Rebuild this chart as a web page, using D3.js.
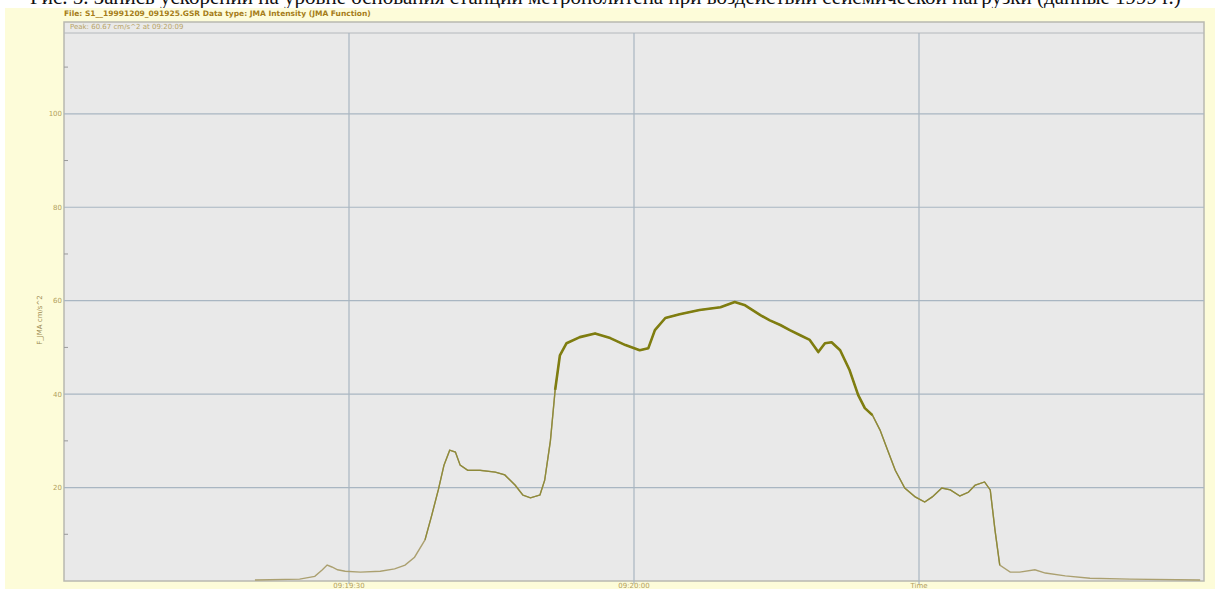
<!DOCTYPE html>
<html>
<head>
<meta charset="utf-8">
<script src="https://cdn.jsdelivr.net/npm/d3@7"></script>
<style>
  body { margin: 0; background: #fff; }
  svg { display: block; }
</style>
</head>
<body>
<div id="chart"></div>
<script>
// seconds after 09:19:00
var times = [20.1, 24.8, 26.4, 27.2, 27.7, 28.2, 28.8, 29.6, 31.2, 33.3, 34.8, 35.9, 36.9, 38.0, 38.7, 39.4, 40.0, 40.6, 41.2, 41.7,
  42.5, 43.8, 45.4, 46.4, 47.5, 48.3, 49.1, 50.1, 50.6, 51.2, 51.7, 52.2, 52.9, 54.3, 55.9, 57.5, 59.1, 60.6, 61.5, 62.2,
  63.3, 64.8, 66.9, 69.1, 70.6, 71.7, 73.3, 74.3, 75.4, 76.4, 77.5, 78.5, 79.4, 80.1, 80.8, 81.7, 82.7, 83.6, 84.3, 85.1,
  85.9, 86.7, 87.5, 88.5, 89.6, 90.6, 91.4, 92.4, 93.3, 94.3, 95.2, 95.9, 96.9, 97.5, 98.0, 98.5, 99.6, 100.6, 102.2, 103.3,
  105.4, 108.0, 112.2, 119.6];
var intensity = [0.2, 0.4, 1.0, 2.4, 3.4, 3.0, 2.4, 2.1, 1.9, 2.1, 2.6, 3.4, 5.1, 8.8, 14.0, 19.5, 24.8, 28.0, 27.6, 24.8,
  23.7, 23.7, 23.3, 22.7, 20.5, 18.4, 17.8, 18.4, 21.6, 30.0, 40.9, 48.3, 50.9, 52.2, 53.0, 52.0, 50.5, 49.4, 49.8, 53.7,
  56.3, 57.1, 58.0, 58.6, 59.7, 59.0, 56.9, 55.8, 54.8, 53.7, 52.6, 51.6, 49.0, 50.9, 51.1, 49.4, 45.1, 39.8, 37.0, 35.5,
  32.3, 28.0, 23.7, 19.9, 18.0, 16.9, 18.0, 19.9, 19.5, 18.2, 19.0, 20.5, 21.2, 19.5, 10.9, 3.4, 1.9, 1.9, 2.4, 1.7,
  1.1, 0.6, 0.4, 0.2];
var yTicks = [20, 40, 60, 80, 100];
var yMinor = [10, 30, 50, 70, 90, 110];
var xTicks = [30, 60, 90];
var xTickLabels = ["09:19:30", "09:20:00", "Time"];

var headerText = "File: S1__19991209_091925.GSR  Data type: JMA Intensity (JMA Function)";
var peakText = "Peak: 60.67 cm/s^2 at 09:20:09";
var yTitle = "F_JMA cm/s^2";
var captionText = "Рис. 5. Запись ускорений на уровне основания станции метрополитена при воздействии сейсмической нагрузки (данные 1999 г.)";

var W = 1219, H = 589;
var plot = {left: 64, right: 1204, top: 22, gridTop: 33, bottom: 581};

var svg = d3.select("#chart").append("svg")
  .attr("width", W)
  .attr("height", H);

// caption line, cut off by the panel below it
svg.append("text")
  .attr("x", 30).attr("y", 4)
  .attr("font-family", "Liberation Serif, serif")
  .attr("font-size", 21)
  .attr("fill", "#111")
  .text(captionText);

// yellow panel
svg.append("rect")
  .attr("x", 5).attr("y", 8)
  .attr("width", W - 9).attr("height", H - 8)
  .attr("fill", "#fdfcd9");

// plot area
svg.append("rect")
  .attr("x", plot.left).attr("y", plot.top)
  .attr("width", plot.right - plot.left).attr("height", plot.bottom - plot.top)
  .attr("fill", "#e9e9e9")
  .attr("stroke", "#b8b8b0")
  .attr("stroke-width", 1.5);

svg.append("line")
  .attr("x1", plot.left).attr("x2", plot.right)
  .attr("y1", plot.gridTop).attr("y2", plot.gridTop)
  .attr("stroke", "#b4b8bc");

var x = d3.scaleLinear().domain([0, 120]).range([plot.left, plot.right]);
var y = d3.scaleLinear().domain([0, 117.3]).range([plot.bottom, plot.gridTop]);

// grid
svg.append("g").selectAll("line")
  .data(yTicks).enter().append("line")
  .attr("x1", plot.left).attr("x2", plot.right)
  .attr("y1", d => y(d)).attr("y2", d => y(d))
  .attr("stroke", "#a9b6c2").attr("stroke-width", 1.2);

svg.append("g").selectAll("line")
  .data(xTicks).enter().append("line")
  .attr("x1", d => x(d)).attr("x2", d => x(d))
  .attr("y1", plot.gridTop).attr("y2", plot.bottom + 3)
  .attr("stroke", "#a9b6c2").attr("stroke-width", 1.2);

svg.append("g").selectAll("line")
  .data(yMinor).enter().append("line")
  .attr("x1", plot.left).attr("x2", plot.left + 4)
  .attr("y1", d => y(d)).attr("y2", d => y(d))
  .attr("stroke", "#9a9a9a");

// axis labels
svg.append("g").selectAll("text")
  .data(yTicks).enter().append("text")
  .attr("x", plot.left - 2).attr("y", d => y(d) + 2.5)
  .attr("text-anchor", "end")
  .attr("font-family", "DejaVu Sans, sans-serif")
  .attr("font-size", 7)
  .attr("fill", "#b39f5c")
  .text(d => d);

svg.append("g").selectAll("text")
  .data(xTicks).enter().append("text")
  .attr("x", d => x(d)).attr("y", 588)
  .attr("text-anchor", "middle")
  .attr("font-family", "DejaVu Sans, sans-serif")
  .attr("font-size", 7)
  .attr("fill", "#b39f5c")
  .text((d, i) => xTickLabels[i]);

svg.append("text")
  .attr("transform", "translate(42,320) rotate(-90)")
  .attr("text-anchor", "middle")
  .attr("font-family", "DejaVu Sans, sans-serif")
  .attr("font-size", 7)
  .attr("fill", "#9c8a50")
  .text(yTitle);

svg.append("text")
  .attr("x", plot.left).attr("y", 16)
  .attr("font-family", "DejaVu Sans, sans-serif")
  .attr("font-size", 7.5)
  .attr("font-weight", "bold")
  .attr("fill", "#a57c18")
  .text(headerText);

svg.append("text")
  .attr("x", plot.left + 6).attr("y", 29)
  .attr("font-family", "DejaVu Sans, sans-serif")
  .attr("font-size", 7)
  .attr("fill", "#b8a466")
  .text(peakText);

// curve
var pts = times.map((t, i) => [t, intensity[i]]);
var line = d3.line()
  .x(d => x(d[0]))
  .y(d => y(d[1]));

svg.append("path")
  .datum(pts)
  .attr("d", line)
  .attr("fill", "none")
  .attr("stroke", "#aba070")
  .attr("stroke-width", 1.4);

// the rise and the fall are a bit darker
[[38, 51.7], [85.1, 98.5]].forEach(function (r) {
  svg.append("path")
    .datum(pts.filter(d => d[0] >= r[0] && d[0] <= r[1]))
    .attr("d", line)
    .attr("fill", "none")
    .attr("stroke", "#8e8a3a")
    .attr("stroke-width", 1.3);
});

// the dense middle section is drawn heavier
svg.append("path")
  .datum(pts.filter(d => d[0] >= 51.7 && d[0] <= 85.1))
  .attr("d", line)
  .attr("fill", "none")
  .attr("stroke", "#7f7d10")
  .attr("stroke-width", 2.6)
  .attr("stroke-linejoin", "round");
</script>
</body>
</html>
